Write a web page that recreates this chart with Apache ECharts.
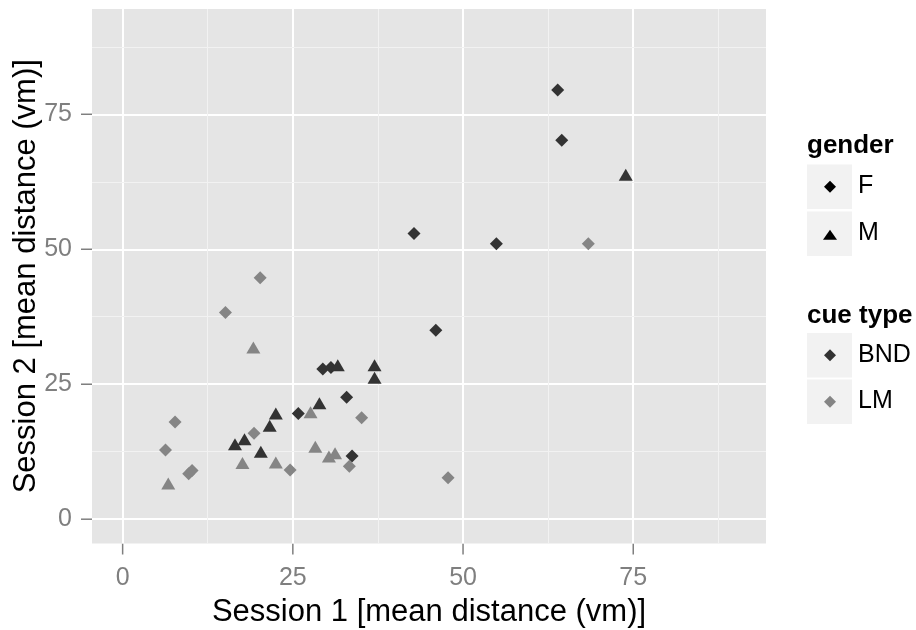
<!DOCTYPE html>
<html>
<head>
<meta charset="utf-8">
<script src="https://cdn.jsdelivr.net/npm/echarts@6/dist/echarts.min.js"></script>
<style>
  html, body { margin: 0; padding: 0; background: #ffffff; }
  #chart { width: 916px; height: 630px; }
</style>
</head>
<body>
<div id="chart"></div>
<script>
// Mean distance per participant in two sessions, by gender (shape) and cue type (colour)
const femaleBND = [
  [29.4, 27.8], [30.6, 28.1], [32.9, 22.6], [25.8, 19.6], [33.7, 11.7],
  [46.0, 35.0], [42.8, 52.9], [54.9, 51.0], [63.9, 79.5], [64.5, 70.2]
];
const maleBND = [
  [31.6, 28.5], [37.0, 28.5], [37.0, 26.2], [28.9, 21.5], [22.5, 19.6],
  [21.6, 17.3], [17.9, 14.8], [16.5, 13.9], [20.3, 12.5], [73.9, 63.8]
];
const femaleLM = [
  [20.2, 44.7], [15.1, 38.3], [35.1, 18.8], [19.3, 15.9], [7.7, 18.0],
  [6.3, 12.8], [9.7, 8.4], [10.2, 9.0], [24.6, 9.1], [33.3, 9.8],
  [68.4, 51.0], [47.8, 7.7]
];
const maleLM = [
  [19.2, 31.8], [27.6, 19.8], [6.7, 6.6], [17.6, 10.4], [22.5, 10.5],
  [28.3, 13.4], [30.3, 11.6], [31.2, 12.2]
];

const xTickValues = [0, 25, 50, 75];
const yTickValues = [0, 25, 50, 75];
const majorBreaks = [0, 25, 50, 75];
const minorBreaks = [12.5, 37.5, 62.5, 87.5];

const genderLevels = ['F', 'M'];
const cueLevels = ['BND', 'LM'];

const AXIS_MIN = -4.5, AXIS_MAX = 94.5;
const TICK_LEN = 11;
const FONT = '"Liberation Sans", Arial, Helvetica, sans-serif';
const DARK = '#333333';
const LIGHT = '#858585';
const TICK_COLOR = '#7F7F7F';

const chart = echarts.init(document.getElementById('chart'), null, { renderer: 'canvas' });

function gridLines() {
  const data = [];
  majorBreaks.forEach(v => {
    data.push({ xAxis: v, lineStyle: { color: '#ffffff', width: 2, type: 'solid' } });
    data.push({ yAxis: v, lineStyle: { color: '#ffffff', width: 2, type: 'solid' } });
  });
  minorBreaks.forEach(v => {
    data.push({ xAxis: v, lineStyle: { color: '#F2F2F2', width: 1, type: 'solid' } });
    data.push({ yAxis: v, lineStyle: { color: '#F2F2F2', width: 1, type: 'solid' } });
  });
  return data;
}

function pointSeries(name, data, symbol, size, color) {
  return {
    name: name,
    type: 'scatter',
    z: 5,
    data: data,
    symbol: symbol,
    symbolSize: size,
    itemStyle: { color: color, opacity: 1 },
    emphasis: { disabled: true },
    animation: false
  };
}

// Outward tick marks just outside the panel edges
function tickSeries(values, isX) {
  return {
    type: 'custom',
    z: 2,
    silent: true,
    clip: false,
    animation: false,
    data: values.map(v => [v]),
    renderItem: function (params, api) {
      const v = api.value(0);
      let x1, y1, x2, y2;
      if (isX) {
        const p = api.coord([v, AXIS_MIN]);
        x1 = p[0]; y1 = p[1]; x2 = p[0]; y2 = p[1] + TICK_LEN;
      } else {
        const p = api.coord([AXIS_MIN, v]);
        x1 = p[0] - TICK_LEN; y1 = p[1]; x2 = p[0]; y2 = p[1];
      }
      return {
        type: 'line',
        shape: { x1: x1, y1: y1, x2: x2, y2: y2 },
        style: { stroke: TICK_COLOR, lineWidth: 1.5 }
      };
    }
  };
}

// Legend keys, drawn as boxed swatches with a marker and a label
function diamondPts(cx, cy, w, h) {
  return [[cx, cy - h / 2], [cx + w / 2, cy], [cx, cy + h / 2], [cx - w / 2, cy]];
}
function trianglePts(cx, cy, w, h) {
  return [[cx, cy - h / 2], [cx + w / 2, cy + h / 2], [cx - w / 2, cy + h / 2]];
}

const legendGraphics = [];
const keyX = 807, keyW = 45, keyH = 44.5;
function addKey(top, shapePts, color, label) {
  legendGraphics.push({
    type: 'rect', left: keyX, top: top, silent: true,
    shape: { width: keyW, height: keyH },
    style: { fill: '#F2F2F2' }
  });
  legendGraphics.push({
    type: 'polygon', silent: true,
    shape: { points: shapePts(keyX + keyW / 2 + 0.5, top + keyH / 2) },
    style: { fill: color }
  });
  legendGraphics.push({
    type: 'text', left: 858, top: top + keyH / 2 - 13, silent: true,
    style: { text: label, font: '25px ' + FONT, fill: '#000000' }
  });
}
legendGraphics.push({
  type: 'text', left: 807, top: 133, silent: true,
  style: { text: 'gender', font: 'bold 26px ' + FONT, fill: '#000000' }
});
addKey(164.5, (cx, cy) => diamondPts(cx, cy, 12, 12), '#000000', genderLevels[0]);
addKey(211.5, (cx, cy) => trianglePts(cx, cy + 1, 14, 10), '#000000', genderLevels[1]);
legendGraphics.push({
  type: 'text', left: 807, top: 303, silent: true,
  style: { text: 'cue type', font: 'bold 26px ' + FONT, fill: '#000000' }
});
addKey(333, (cx, cy) => diamondPts(cx, cy, 12, 12), DARK, cueLevels[0]);
addKey(379.5, (cx, cy) => diamondPts(cx, cy, 12, 12), LIGHT, cueLevels[1]);

const option = {
  backgroundColor: '#ffffff',
  animation: false,
  textStyle: { fontFamily: FONT },
  grid: {
    left: 92, right: 150, top: 9, bottom: 86.5,
    containLabel: false,
    outerBoundsMode: 'none',
    show: true, backgroundColor: '#E5E5E5', borderWidth: 0
  },
  xAxis: {
    type: 'value', min: AXIS_MIN, max: AXIS_MAX,
    name: 'Session 1 [mean distance (vm)]',
    nameLocation: 'middle', nameGap: 53, nameMoveOverlap: false,
    nameTextStyle: { fontSize: 31, color: '#000000', fontFamily: FONT },
    axisLine: { show: false },
    axisTick: { show: false },
    axisLabel: { customValues: xTickValues, fontSize: 25, color: TICK_COLOR, margin: 22, fontFamily: FONT },
    splitLine: { show: false }
  },
  yAxis: {
    type: 'value', min: AXIS_MIN, max: AXIS_MAX,
    name: 'Session 2 [mean distance (vm)]',
    nameLocation: 'middle', nameGap: 50, nameRotate: 90, nameMoveOverlap: false,
    nameTextStyle: { fontSize: 31, color: '#000000', fontFamily: FONT },
    axisLine: { show: false },
    axisTick: { show: false },
    axisLabel: { customValues: yTickValues, fontSize: 25, color: TICK_COLOR, margin: 20, fontFamily: FONT },
    splitLine: { show: false }
  },
  series: [
    {
      name: 'grid',
      type: 'scatter',
      z: 1,
      data: [],
      silent: true,
      markLine: {
        silent: true,
        symbol: ['none', 'none'],
        label: { show: false },
        animation: false,
        emphasis: { disabled: true },
        data: gridLines()
      }
    },
    tickSeries(xTickValues, true),
    tickSeries(yTickValues, false),
    pointSeries('F BND', femaleBND, 'diamond', [13, 13], DARK),
    pointSeries('M BND', maleBND, 'triangle', [14, 12], DARK),
    pointSeries('F LM', femaleLM, 'diamond', [13, 13], LIGHT),
    pointSeries('M LM', maleLM, 'triangle', [14, 12], LIGHT)
  ],
  graphic: legendGraphics
};

chart.setOption(option);
</script>
</body>
</html>
